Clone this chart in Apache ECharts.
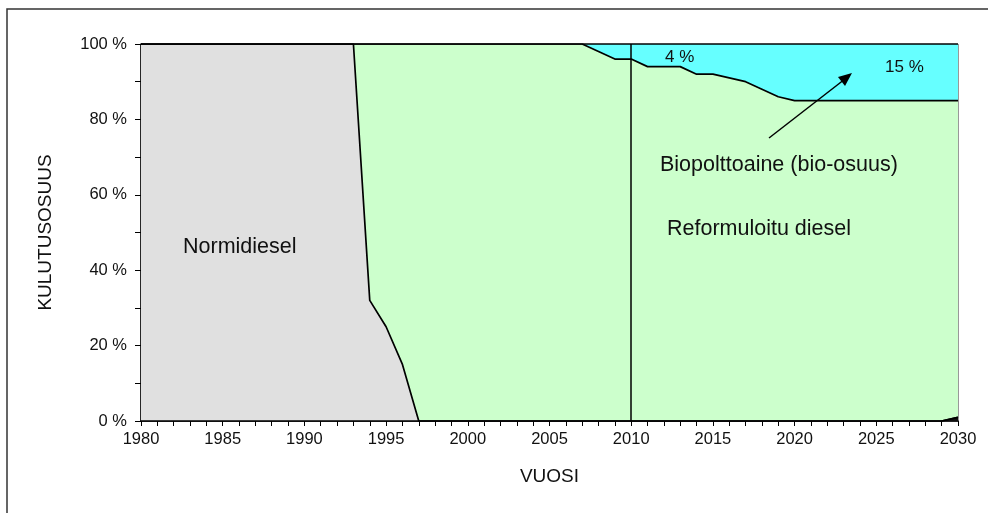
<!doctype html>
<html lang="fi">
<head>
  <meta charset="UTF-8">
  <script src="https://cdn.jsdelivr.net/npm/echarts@6/dist/echarts.min.js"></script>
  <title>Kulutusosuus</title>
  <style type="text/css">
    html, body {
      width: 100%;
      height: 100%;
      margin: 0;
      padding: 0;
      background-color: #ffffff;
    }

    #canvas {
      width: 988px;
      height: 513px;
    }
  </style>
</head>

<body>
<div id="canvas"></div>

<script type="text/javascript">
  const years = [
    '1980', '1981', '1982', '1983', '1984', '1985', '1986', '1987', '1988', '1989',
    '1990', '1991', '1992', '1993', '1994', '1995', '1996', '1997', '1998', '1999',
    '2000', '2001', '2002', '2003', '2004', '2005', '2006', '2007', '2008', '2009',
    '2010', '2011', '2012', '2013', '2014', '2015', '2016', '2017', '2018', '2019',
    '2020', '2021', '2022', '2023', '2024', '2025', '2026', '2027', '2028', '2029',
    '2030'
  ]

  // osuudet prosentteina, vuodet 1980..2030
  const other = [
    0, 0, 0, 0, 0, 0, 0, 0, 0, 0,
    0, 0, 0, 0, 0, 0, 0, 0, 0, 0,
    0, 0, 0, 0, 0, 0, 0, 0, 0, 0,
    0, 0, 0, 0, 0, 0, 0, 0, 0, 0,
    0, 0, 0, 0, 0, 0, 0, 0, 0, 0,
    1
  ]
  const normidiesel = [
    100, 100, 100, 100, 100, 100, 100, 100, 100, 100,
    100, 100, 100, 100, 32, 25, 15, 0, 0, 0,
    0, 0, 0, 0, 0, 0, 0, 0, 0, 0,
    0, 0, 0, 0, 0, 0, 0, 0, 0, 0,
    0, 0, 0, 0, 0, 0, 0, 0, 0, 0,
    0
  ]
  const reformuloitu = [
    0, 0, 0, 0, 0, 0, 0, 0, 0, 0,
    0, 0, 0, 0, 68, 75, 85, 100, 100, 100,
    100, 100, 100, 100, 100, 100, 100, 100, 98, 96,
    96, 94, 94, 94, 92, 92, 91, 90, 88, 86,
    85, 85, 85, 85, 85, 85, 85, 85, 85, 85,
    84
  ]
  const bio = [
    0, 0, 0, 0, 0, 0, 0, 0, 0, 0,
    0, 0, 0, 0, 0, 0, 0, 0, 0, 0,
    0, 0, 0, 0, 0, 0, 0, 0, 2, 4,
    4, 6, 6, 6, 8, 8, 9, 10, 12, 14,
    15, 15, 15, 15, 15, 15, 15, 15, 15, 15,
    15
  ]
  const yTicks = [0, 20, 40, 60, 80, 100]
  const markYear = '2010'

  const font = 'Liberation Sans'
  const canvas = document.getElementById('canvas')
  const chart = echarts.init(canvas)

  const areaSeries = (name, data, color) => ({
    name: name,
    type: 'line',
    stack: 'total',
    data: data,
    showSymbol: false,
    symbol: 'none',
    lineStyle: { color: '#000', width: 1.7 },
    areaStyle: { color: color, opacity: 1 },
  })

  // tekstit: vasen reuna ja keskikohta pikseleinä
  const note = (text, x, y, size) => ({
    type: 'text',
    left: x,
    top: Math.round(y - size / 2),
    z: 20,
    silent: true,
    style: {
      text: text,
      fill: '#111',
      fontSize: size,
      fontFamily: font,
    },
  })

  const bioSeries = areaSeries('Biopolttoaine', bio, '#66ffff')
  bioSeries.markLine = {
    silent: true,
    symbol: 'none',
    label: { show: false },
    lineStyle: { color: '#000', width: 1.5, type: 'solid' },
    data: [{ xAxis: markYear }],
  }

  chart.setOption({
    animation: false,
    textStyle: { fontFamily: font },
    grid: {
      left: 141,
      right: 30,
      top: 44,
      bottom: 92,
      show: true,
      borderColor: '#333',
      borderWidth: 1,
    },
    xAxis: {
      type: 'category',
      data: years,
      boundaryGap: false,
      name: 'VUOSI',
      nameLocation: 'middle',
      nameGap: 46,
      nameTextStyle: { fontSize: 19, color: '#111' },
      axisLine: { lineStyle: { color: '#000', width: 1.5 } },
      axisTick: { interval: 0, length: 5, lineStyle: { color: '#000' } },
      axisLabel: { interval: 4, margin: 10, fontSize: 16.5, color: '#111' },
      splitLine: { show: false },
    },
    yAxis: {
      type: 'value',
      min: yTicks[0],
      max: yTicks[yTicks.length - 1],
      interval: 20,
      name: 'KULUTUSOSUUS',
      nameLocation: 'middle',
      nameGap: 86,
      nameTextStyle: { fontSize: 19, color: '#111' },
      axisLine: { show: true, lineStyle: { color: '#000', width: 1.5 } },
      axisTick: { show: true, length: 6, lineStyle: { color: '#000' } },
      minorTick: { show: true, splitNumber: 2, length: 6, lineStyle: { color: '#000' } },
      axisLabel: { margin: 14, fontSize: 16.5, color: '#111', formatter: '{value} %' },
      splitLine: { show: false },
    },
    series: [
      areaSeries('Muu', other, '#111'),
      areaSeries('Normidiesel', normidiesel, '#e0e0e0'),
      areaSeries('Reformuloitu diesel', reformuloitu, '#ccffcc'),
      bioSeries,
    ],
    graphic: [
      {
        type: 'rect',
        shape: { x: 7, y: 9, width: 1000, height: 520 },
        style: { fill: null, stroke: '#333', lineWidth: 1.5 },
        silent: true,
      },
      note('Normidiesel', 183, 247, 21.5),
      note('Reformuloitu diesel', 667, 229, 21.5),
      note('Biopolttoaine (bio-osuus)', 660, 165, 21.5),
      note('4 %', 665, 57, 17),
      note('15 %', 885, 67, 17),
      {
        type: 'line',
        shape: { x1: 769, y1: 138, x2: 845, y2: 79 },
        style: { stroke: '#000', lineWidth: 1.5 },
        z: 10,
      },
      {
        type: 'polygon',
        shape: { points: [[852, 73], [838, 77], [845, 86]] },
        style: { fill: '#000' },
        z: 10,
      },
    ],
  })
</script>
</body>
</html>
